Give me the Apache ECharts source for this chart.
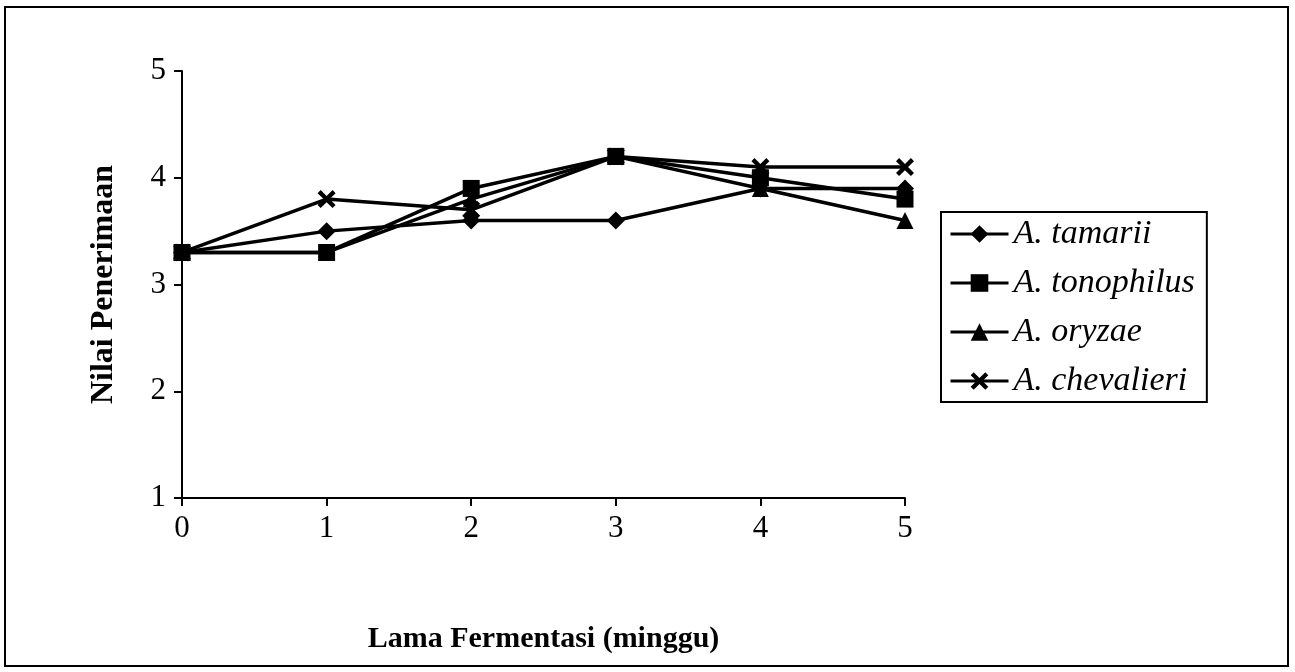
<!DOCTYPE html>
<html>
<head>
<meta charset="utf-8">
<script src="https://cdn.jsdelivr.net/npm/echarts@6/dist/echarts.min.js"></script>
<style>html,body{margin:0;padding:0;background:#fff;}#c{width:1295px;height:672px;}</style>
</head>
<body>
<div id="c"></div>
<script>
var weeks = [0, 1, 2, 3, 4, 5];
var tamarii = [3.3, 3.5, 3.6, 3.6, 3.9, 3.9];
var tonophilus = [3.3, 3.3, 3.9, 4.2, 4.0, 3.8];
var oryzae = [3.3, 3.3, 3.8, 4.2, 3.9, 3.6];
var chevalieri = [3.3, 3.8, 3.7, 4.2, 4.1, 4.1];
var seriesNames = ['A. tamarii', 'A. tonophilus', 'A. oryzae', 'A. chevalieri'];
var xTitle = 'Lama Fermentasi (minggu)';
var yTitle = 'Nilai Penerimaan';

var xSym = 'path://M0,1.7 L1.7,0 L5,3.3 L8.3,0 L10,1.7 L6.7,5 L10,8.3 L8.3,10 L5,6.7 L1.7,10 L0,8.3 L3.3,5 Z';
var font = '"Liberation Serif", "DejaVu Serif", serif';

function pairs(vals) { return weeks.map(function (w, i) { return [w, vals[i]]; }); }

function mk(name, vals, symbol, size) {
  return {
    name: name, type: 'line', data: pairs(vals),
    symbol: symbol, symbolSize: size,
    lineStyle: { color: '#000', width: 3.5 },
    itemStyle: { color: '#000' },
    emphasis: { disabled: true },
    animation: false
  };
}

var chart = echarts.init(document.getElementById('c'));
chart.setOption({
  backgroundColor: '#fff',
  animation: false,
  graphic: [{
    type: 'rect', shape: { x: 5, y: 7, width: 1283, height: 659 },
    style: { fill: 'none', stroke: '#000', lineWidth: 2 }, z: 100
  }],
  grid: { left: 182, top: 71, width: 723, height: 427 },
  legend: {
    orient: 'vertical', left: 941, top: 212,
    padding: [5, 12, 4, 8],
    borderColor: '#000', borderWidth: 2,
    itemWidth: 58, itemHeight: 22, itemGap: 15,
    lineStyle: { width: 3 },
    data: seriesNames,
    textStyle: { fontFamily: font, fontStyle: 'italic', fontSize: 34, color: '#000', lineHeight: 30 }
  },
  xAxis: {
    type: 'value', min: 0, max: 5, interval: 1,
    name: xTitle, nameLocation: 'middle', nameGap: 126,
    nameTextStyle: { fontFamily: font, fontWeight: 'bold', fontSize: 30, color: '#000' },
    axisLine: { lineStyle: { color: '#000', width: 2 } },
    axisTick: { show: true, length: 8, lineStyle: { color: '#000', width: 2 } },
    axisLabel: { fontFamily: font, fontSize: 31, color: '#000', margin: 15 },
    splitLine: { show: false }
  },
  yAxis: {
    type: 'value', min: 1, max: 5, interval: 1,
    name: yTitle, nameLocation: 'middle', nameGap: 62, nameRotate: 90,
    nameTextStyle: { fontFamily: font, fontWeight: 'bold', fontSize: 32, color: '#000' },
    axisLine: { show: true, lineStyle: { color: '#000', width: 2 } },
    axisTick: { show: true, length: 8, lineStyle: { color: '#000', width: 2 } },
    axisLabel: { fontFamily: font, fontSize: 31, color: '#000', margin: 16 },
    splitLine: { show: false }
  },
  series: [
    mk(seriesNames[0], tamarii, 'diamond', 18),
    mk(seriesNames[1], tonophilus, 'rect', 17),
    mk(seriesNames[2], oryzae, 'triangle', 17),
    mk(seriesNames[3], chevalieri, xSym, 18)
  ]
});
</script>
</body>
</html>
